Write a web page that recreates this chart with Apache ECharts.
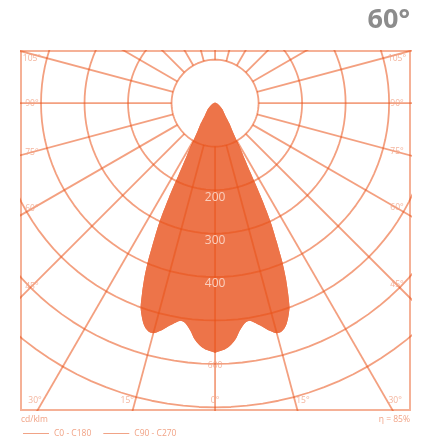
<!DOCTYPE html>
<html>
<head>
<meta charset="utf-8">
<script src="https://cdn.jsdelivr.net/npm/echarts@6/dist/echarts.min.js"></script>
<style>
html, body { margin: 0; padding: 0; background: #fff; }
#main { width: 426px; height: 436px; }
</style>
</head>
<body>
<div id="main"></div>
<script>
// gamma angle from nadir (deg) and luminous intensity (cd/klm)
const gamma = [0, 2, 3, 4, 5, 6, 7, 8, 9, 10, 11, 12, 13, 14, 15, 16, 17, 18, 19, 20,
  21, 22, 23, 24, 25, 26, 27, 28, 29, 30, 32, 35, 40, 50, 60, 75, 90, 120, 150, 180];
const cdC0C180 = [574, 568, 563, 555, 545, 529, 517, 509, 507, 512, 519, 526, 535, 542, 548, 548, 543, 533, 518, 500,
  468, 434, 394, 347, 304, 243, 180, 143, 123, 101, 76, 58, 36, 22, 12, 6, 3, 2, 1, 1];
// the C90-C270 curve lies on top of the C0-C180 one in the picture
const cdC90C270 = cdC0C180.slice();

const ringValues = [100, 200, 300, 400, 500, 600, 700];
const rayAngles = [0, 15, 30, 45, 60, 75, 90, 105, 120, 135, 150, 165, 180,
  195, 210, 225, 240, 255, 270, 285, 300, 315, 330, 345];
const angleTicks = [0, 15, 30, 45, 60, 75, 90, 105];
const ringLabelsIn = [200, 300, 400];
const ringLabelsOut = [600];

const FILL = '#ED7449';
const GRID = 'rgba(233,82,24,0.55)';
const LABEL = '#F1A386';

var chartDom = document.getElementById('main');
var myChart = echarts.init(chartDom);
var option;

function toXY(r, deg, side) {
  var a = deg * Math.PI / 180;
  return [side * r * Math.sin(a), -r * Math.cos(a)];
}

function outline(values) {
  var pts = [];
  for (var i = 0; i < gamma.length; i++) pts.push(toXY(values[i], gamma[i], 1));
  for (var j = gamma.length - 1; j >= 0; j--) pts.push(toXY(values[j], gamma[j], -1));
  return pts;
}

function shapeSeries(name, values) {
  var pts = outline(values);
  return {
    name: name,
    type: 'custom',
    z: 1,
    silent: true,
    itemStyle: { color: FILL },
    data: [[0, 0]],
    renderItem: function (params, api) {
      return {
        type: 'polygon',
        shape: { points: pts.map(function (p) { return api.coord(p); }), smooth: 0.25 },
        style: { fill: FILL }
      };
    }
  };
}

var series = [shapeSeries('C0 - C180', cdC0C180), shapeSeries('C90 - C270', cdC90C270)];

// circles
ringValues.forEach(function (v) {
  var pts = [];
  for (var a = 0; a <= 360; a += 3) pts.push(toXY(v, a, 1));
  series.push({
    type: 'line', data: pts, showSymbol: false, silent: true, z: 3, clip: true,
    lineStyle: { color: GRID, width: 1.8 }
  });
});

// radial lines, starting at the inner circle
rayAngles.forEach(function (a) {
  series.push({
    type: 'line', data: [toXY(100, a, 1), toXY(1100, a, 1)], showSymbol: false, silent: true, z: 3, clip: true,
    lineStyle: { color: GRID, width: 1.8 }
  });
});

// angle labels, just inside the frame along each ray
var angleLabelData = [];
angleTicks.forEach(function (a) {
  [-1, 1].forEach(function (side) {
    if (a === 0 && side === 1) return;
    var rad = a * Math.PI / 180;
    var s = Math.sin(rad), c = Math.cos(rad);
    var r = 1e9, bottom = false;
    if (s > 1e-6) r = (side < 0 ? 421 : 418) / s;
    if (c > 1e-6 && 685 / c < r) { r = 685 / c; bottom = true; }
    var p = toXY(r, a, side);
    angleLabelData.push({
      value: p, name: a + '°',
      label: { offset: [bottom && a > 0 ? side * 8 : 0, a === 105 ? 4 : 0] }
    });
  });
});

series.push({
  type: 'scatter', data: angleLabelData, symbolSize: 0, silent: true, z: 4, clip: false,
  label: {
    show: true, position: 'inside', formatter: '{b}',
    color: LABEL, fontSize: 8.5, fontFamily: 'Open Sans'
  }
});

series.push({
  type: 'scatter', silent: true, z: 5, symbolSize: 0,
  data: ringLabelsIn.map(function (v) { return { value: [0, -v], name: String(v) }; }),
  label: {
    show: true, position: 'inside', offset: [0, 7], formatter: '{b}',
    color: '#FCE6DC', fontSize: 12, fontFamily: 'Open Sans'
  }
});

series.push({
  type: 'scatter', silent: true, z: 5, symbolSize: 0,
  data: ringLabelsOut.map(function (v) { return { value: [0, -v], name: String(v) }; }),
  label: {
    show: true, position: 'inside', offset: [0, 2], formatter: '{b}',
    color: LABEL, fontSize: 8.5, fontFamily: 'Open Sans'
  }
});

option = {
  animation: false,
  grid: {
    left: 21, top: 51, width: 389, height: 359,
    show: true, borderColor: 'rgba(233,82,24,0.45)', borderWidth: 2
  },
  xAxis: { type: 'value', min: -446, max: 448, show: false },
  yAxis: { type: 'value', min: -706, max: 120, show: false },
  legend: {
    data: ['C0 - C180', 'C90 - C270'],
    left: 18, top: 424,
    icon: 'rect', itemWidth: 26, itemHeight: 1, itemGap: 12,
    selectedMode: false,
    itemStyle: { color: LABEL },
    textStyle: { color: LABEL, fontSize: 8.5, fontFamily: 'Open Sans' }
  },
  graphic: [
    {
      type: 'text', right: 16, top: 7,
      style: { text: '60°', font: 'bold 27px "Open Sans"', fill: '#8c8c8c' }
    },
    {
      type: 'text', left: 21, top: 415,
      style: { text: 'cd/klm', font: '8.5px "Open Sans"', fill: LABEL }
    },
    {
      type: 'text', right: 16, top: 415,
      style: { text: 'η = 85%', font: '8.5px "Open Sans"', fill: LABEL }
    }
  ],
  series: series
};

option && myChart.setOption(option);
</script>
</body>
</html>
